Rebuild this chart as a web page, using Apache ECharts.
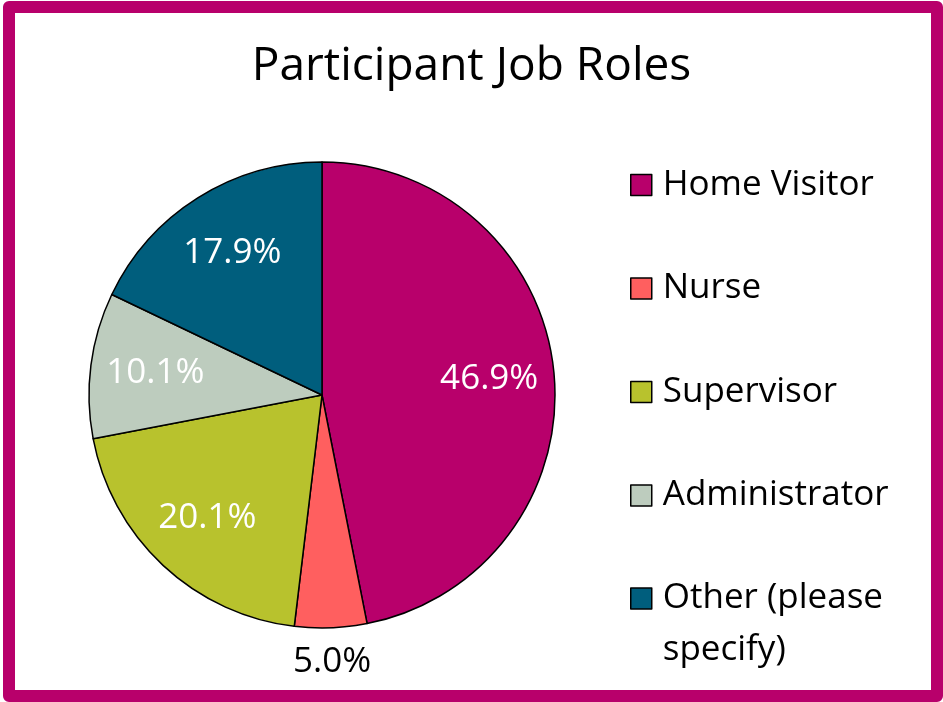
<!DOCTYPE html>
<html>
<head>
<meta charset="utf-8">
<title>Participant Job Roles</title>
<script src="https://cdn.jsdelivr.net/npm/echarts@6/dist/echarts.min.js"></script>
<style>
  html, body { margin: 0; padding: 0; background: #fff; }
  #chart { width: 943px; height: 702px; }
</style>
</head>
<body>
<div id="chart"></div>
<script>
// chart data
var roles = ['Home Visitor', 'Nurse', 'Supervisor', 'Administrator', 'Other (please specify)']
var shares = [46.9, 5.0, 20.1, 10.1, 17.9]
var colors = ['#B8006B', '#FF5F5F', '#B8C22D', '#BDCCBE', '#005E7D']

var FONT = 'Open Sans'
var CX = 322, CY = 395, R = 233

function pieData(labelFor) {
  var data = []
  for (var i = 0; i < roles.length; i++) {
    data.push({
      name: roles[i],
      value: shares[i],
      label: { show: labelFor(i) }
    })
  }
  return data
}

function pctLabel(p) {
  return p.value.toFixed(1) + '%'
}

var chart = echarts.init(document.getElementById('chart'))

chart.setOption({
  animation: false,
  color: colors,
  title: {
    text: 'Participant Job Roles',
    left: 'center',
    top: 39,
    textStyle: { fontFamily: FONT, fontSize: 46, fontWeight: 'normal', color: '#000' }
  },
  graphic: [{
    type: 'rect',
    shape: { x: 9, y: 7, width: 928, height: 689 },
    style: { fill: 'none', stroke: '#B8006B', lineWidth: 12, lineJoin: 'round' },
    silent: true
  }],
  legend: [{
    orient: 'vertical',
    left: 625,
    top: 160,
    itemWidth: 21,
    itemHeight: 21,
    itemGap: 63.5,
    icon: 'rect',
    data: roles.slice(0, 4),
    itemStyle: { borderColor: '#000', borderWidth: 1.5 },
    textStyle: { fontFamily: FONT, fontSize: 35, color: '#000', lineHeight: 40, padding: [0, 0, 0, 6] }
  }, {
    // wrapped last entry: a blank first line keeps the marker level with "Other (please"
    orient: 'vertical',
    left: 625,
    top: 524,
    itemWidth: 21,
    itemHeight: 21,
    icon: 'rect',
    data: roles.slice(4),
    formatter: function(name) {
      var parts = name.split(' specify')
      return '{gap| }\n{t|' + parts[0] + '}\n{t|specify' + parts[1] + '}'
    },
    itemStyle: { borderColor: '#000', borderWidth: 1.5 },
    textStyle: {
      fontFamily: FONT, fontSize: 35, color: '#000', padding: [0, 0, 0, 6],
      rich: {
        gap: { fontFamily: FONT, fontSize: 35, lineHeight: 52 },
        t: { fontFamily: FONT, fontSize: 35, color: '#000', lineHeight: 52 }
      }
    }
  }],
  series: [{
    // the pie itself
    name: 'Job Roles',
    type: 'pie',
    center: [CX, CY],
    radius: R,
    label: { show: false },
    labelLine: { show: false },
    itemStyle: { borderColor: '#000', borderWidth: 1.5 },
    emphasis: { disabled: true },
    data: pieData(function() { return false })
  }, {
    // transparent ring carrying the inner percentage labels
    name: 'Inner Labels',
    type: 'pie',
    center: [CX, CY],
    radius: [97, R],
    silent: true,
    itemStyle: { color: 'rgba(0,0,0,0)' },
    label: {
      position: 'inside',
      fontFamily: FONT,
      fontSize: 35,
      color: '#fff',
      formatter: pctLabel
    },
    labelLine: { show: false },
    emphasis: { disabled: true },
    data: pieData(function(i) { return i !== 1 })
  }, {
    // transparent outer ring carrying the small slice label
    name: 'Outer Labels',
    type: 'pie',
    center: [CX, CY],
    radius: [R, 295],
    silent: true,
    itemStyle: { color: 'rgba(0,0,0,0)' },
    label: {
      position: 'inside',
      fontFamily: FONT,
      fontSize: 35,
      color: '#000',
      formatter: pctLabel
    },
    labelLine: { show: false },
    emphasis: { disabled: true },
    data: pieData(function(i) { return i === 1 })
  }]
})
</script>
</body>
</html>
